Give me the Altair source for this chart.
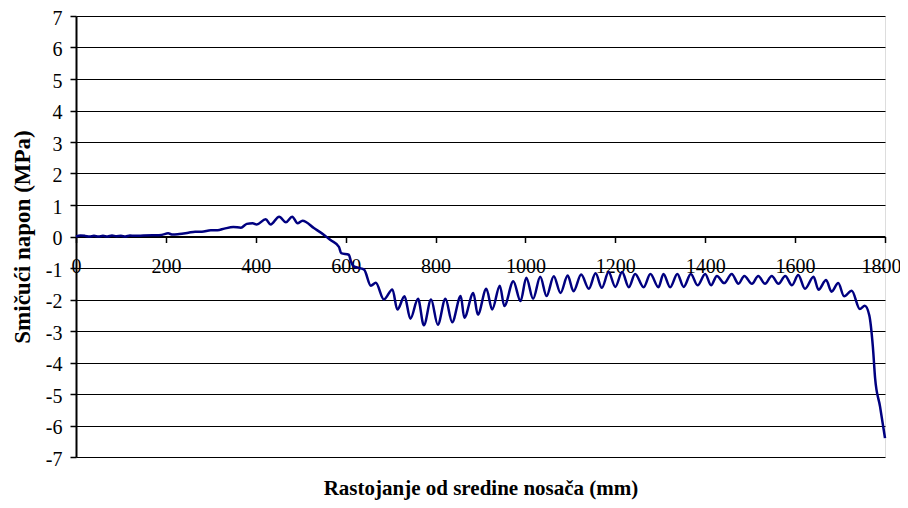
import altair as alt
import pandas as pd

x_mm = [0, 10, 20, 30, 40, 50, 60, 70, 80, 90, 100, 110, 120, 130, 150, 170, 190,
        205, 215, 230, 250, 265, 280, 300, 315, 330, 350, 367, 380, 393, 402, 422, 433,
        452, 467, 481, 493, 504, 530, 552, 567, 585, 590, 607, 612, 618, 630, 641,
        656, 667, 685, 704, 715, 731, 744, 761, 774, 790, 805, 822, 837, 856, 864,
        884, 894, 913, 926, 943, 953, 973, 989, 1002, 1017, 1033, 1047, 1063, 1078,
        1094, 1107, 1124, 1141, 1156, 1170, 1185, 1200, 1215, 1230, 1244, 1263, 1278,
        1296, 1307, 1322, 1338, 1352, 1368, 1383, 1400, 1413, 1426, 1442, 1459, 1474,
        1487, 1504, 1518, 1533, 1548, 1563, 1578, 1593, 1607, 1622, 1641, 1652, 1669,
        1681, 1696, 1709, 1726, 1744, 1755, 1765, 1773, 1778, 1789, 1800]
napon = [0.0, 0.03, 0.02, 0.0, 0.02, 0.0, 0.02, 0.0, 0.03, 0.01, 0.02, 0.0, 0.03, 0.02,
         0.03, 0.04, 0.05, 0.1, 0.06, 0.08, 0.12, 0.15, 0.15, 0.2, 0.2, 0.25, 0.3, 0.28,
         0.4, 0.42, 0.38, 0.55, 0.38, 0.63, 0.45, 0.63, 0.42, 0.5, 0.26, 0.05, -0.12,
         -0.33, -0.53, -0.58, -0.8, -0.95, -1.0, -1.05, -1.56, -1.47, -2.0, -1.68,
         -2.32, -1.9, -2.61, -1.98, -2.82, -2.0, -2.8, -1.98, -2.72, -1.89, -2.58,
         -1.79, -2.48, -1.66, -2.32, -1.56, -2.21, -1.42, -2.05, -1.31, -1.98, -1.28,
         -1.89, -1.26, -1.79, -1.24, -1.74, -1.21, -1.66, -1.17, -1.63, -1.13, -1.6,
         -1.13, -1.61, -1.19, -1.61, -1.19, -1.61, -1.19, -1.61, -1.19, -1.6, -1.19,
         -1.55, -1.19, -1.55, -1.25, -1.48, -1.19, -1.5, -1.25, -1.5, -1.25, -1.5,
         -1.25, -1.5, -1.25, -1.55, -1.22, -1.66, -1.28, -1.69, -1.38, -1.75, -1.48,
         -1.9, -1.72, -2.3, -2.2, -2.5, -3.5, -4.5, -5.4, -6.4]

x_ticks = [0, 200, 400, 600, 800, 1000, 1200, 1400, 1600, 1800]
y_ticks = [-7, -6, -5, -4, -3, -2, -1, 0, 1, 2, 3, 4, 5, 6, 7]

df = pd.DataFrame({"x": x_mm, "y": napon})

W, H = 809, 441
FONT = "Liberation Serif, Times New Roman, serif"

chart = alt.Chart(df).mark_line(
    color="#000080", strokeWidth=2.5, interpolate="monotone"
).encode(
    x=alt.X("x:Q",
            scale=alt.Scale(domain=[0, 1800], nice=False, zero=False),
            axis=alt.Axis(
                title="Rastojanje od sredine nosača (mm)",
                values=x_ticks, labelExpr="'' + datum.value", grid=False,
                offset=-H / 2, domainColor="black", domainWidth=2,
                tickColor="black", tickSize=6, tickWidth=1.5,
                labelFont=FONT, labelFontSize=20, labelColor="black",
                labelPadding=14, labelFlush=False, labelOverlap=False,
                labelOffset={"condition": {"test": "datum.value === 1800", "value": -4},
                             "value": 0},
                titleFont=FONT, titleFontSize=21, titleFontWeight="bold",
                titleColor="black", titleBaseline="middle",
                titleX=W / 2, titleY=252)),
    y=alt.Y("y:Q",
            scale=alt.Scale(domain=[-7, 7], nice=False, zero=False),
            axis=alt.Axis(
                title="Smičući napon (MPa)",
                values=y_ticks, labelExpr="'' + datum.value", grid=True,
                gridColor="black", gridWidth=1, gridOpacity=1,
                domainColor="black", domainWidth=2,
                tickColor="black", tickSize=6, tickWidth=1.5,
                labelFont=FONT, labelFontSize=20, labelColor="black",
                labelPadding=8, labelOverlap=False, labelOffset=2,
                titleFont=FONT, titleFontSize=23, titleFontWeight="bold",
                titleColor="black", titleBaseline="middle", titleAngle=270,
                titleX=-54, titleY=H / 2)),
).properties(
    width=W, height=H,
    autosize=alt.AutoSizeParams(type="none"),
    padding={"left": 68, "top": 8, "right": 15, "bottom": 43},
).configure_view(stroke="black", strokeWidth=1).configure(background="white")

chart.save("out.html", embed_options={"renderer": "svg", "actions": False})
